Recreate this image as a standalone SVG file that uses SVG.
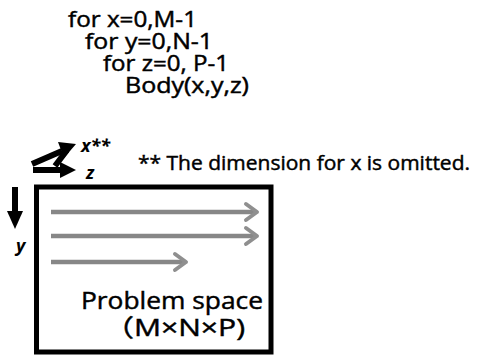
<svg xmlns="http://www.w3.org/2000/svg" width="480" height="357" viewBox="0 0 480 357">
<defs>
<style>
.t{font-family:"Open Sans","Noto Sans CJK JP",sans-serif;fill:#000;stroke:#000;stroke-width:0.45}
.code{font-size:21px}
.ax{font-family:"Open Sans","Liberation Sans",sans-serif;font-style:italic;font-weight:bold;font-size:18px}
.scan{stroke:#878787;stroke-width:4.5;fill:none}
.head{stroke:#8f8f8f;stroke-width:4;fill:none;stroke-linecap:round;stroke-linejoin:round}
.axl{stroke:#000;stroke-width:6;fill:none}
.axh{fill:#000}
</style>
</defs>
<rect width="480" height="357" fill="#fff"/>
<g id="code">
<text class="t code" x="68" y="27" textLength="129" lengthAdjust="spacingAndGlyphs">for x=0,M-1</text>
<text class="t code" x="85" y="49" textLength="128" lengthAdjust="spacingAndGlyphs">for y=0,N-1</text>
<text class="t code" x="103" y="71" textLength="126" lengthAdjust="spacingAndGlyphs">for z=0, P-1</text>
<text class="t code" x="125" y="93" textLength="124" lengthAdjust="spacingAndGlyphs">Body(x,y,z)</text>
</g>
<g id="axes">
<line class="axl" x1="32" y1="164" x2="62" y2="151"/>
<polygon class="axh" points="76,144 58,142 64,158"/>
<line class="axl" x1="67" y1="150" x2="55" y2="166"/>
<line class="axl" x1="33" y1="170" x2="62" y2="170"/>
<polygon class="axh" points="76,170 60,162 60,178"/>
<text class="ax" x="81" y="152">x**</text>
<text class="ax" x="86" y="179">z</text>
<line class="axl" x1="15" y1="187" x2="15" y2="216"/>
<polygon class="axh" points="15,229 7,211 23,211"/>
<text class="ax" x="16" y="252">y</text>
</g>
<g id="note">
<text class="t" x="138" y="170" font-size="20" textLength="332" lengthAdjust="spacingAndGlyphs">** The dimension for x is omitted.</text>
</g>
<g id="problem-space">
<rect x="36.5" y="187" width="234.5" height="165" fill="none" stroke="#000" stroke-width="5"/>
<text class="t" x="81" y="309" font-size="24" textLength="182" lengthAdjust="spacingAndGlyphs">Problem space</text>
<text class="t" x="104" y="336" font-size="24" textLength="141" lengthAdjust="spacingAndGlyphs">（M×N×P)</text>
</g>
<g id="connectors">
<line class="scan" x1="51" y1="212" x2="256" y2="212"/>
<polyline class="head" points="246,204 257,212 246,220"/>
<line class="scan" x1="51" y1="236" x2="256" y2="236"/>
<polyline class="head" points="246,228 257,236 246,244"/>
<line class="scan" x1="51" y1="262" x2="185" y2="262"/>
<polyline class="head" points="175,254 186,262 175,270"/>
</g>
</svg>
